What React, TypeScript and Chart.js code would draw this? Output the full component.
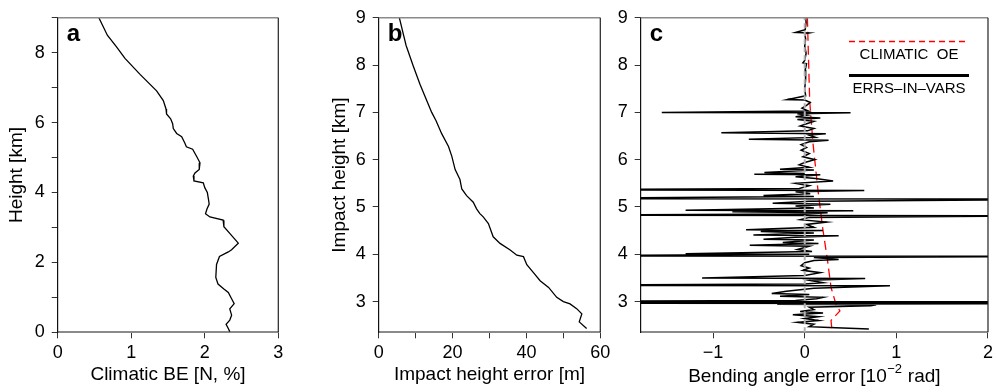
import React, { useEffect, useRef } from 'react';
import { Chart, registerables } from 'chart.js';

Chart.register(...registerables);

const FONT = "'Liberation Sans', Arial, Helvetica, sans-serif";

// ---------- Panel a: climatic background error ----------
const aHeight = [9.0, 8.5, 8.17, 7.84, 7.38, 6.91, 6.63, 6.39, 6.25, 6.11, 5.97, 5.83, 5.69, 5.6, 5.41, 5.31, 5.24, 5.03, 4.85, 4.66, 4.56, 4.47, 4.33, 4.28, 4.14, 4.0, 3.81, 3.67, 3.53, 3.39, 3.3, 3.21, 3.02, 2.83, 2.55, 2.36, 2.3, 2.17, 1.94, 1.57, 1.38, 1.24, 1.14, 0.96, 0.82, 0.67, 0.49, 0.35, 0.23, 0.11, 0.02];
const aClimBE = [0.56, 0.675, 0.8, 0.915, 1.12, 1.345, 1.436, 1.473, 1.48, 1.536, 1.563, 1.572, 1.618, 1.686, 1.73, 1.75, 1.835, 1.89, 1.935, 1.925, 1.867, 1.844, 1.853, 1.98, 2.0, 2.035, 2.05, 2.06, 2.03, 2.01, 2.07, 2.25, 2.26, 2.34, 2.456, 2.365, 2.32, 2.2, 2.16, 2.15, 2.18, 2.26, 2.32, 2.365, 2.4, 2.34, 2.365, 2.34, 2.29, 2.32, 2.34];
const aXTicks = [0, 1, 2, 3];
const aYTicks = [0, 1, 2, 3, 4, 5, 6, 7, 8, 9];
const aYLabels = [0, 2, 4, 6, 8];

// ---------- Panel b: impact height error ----------
const bHeight = [9.0, 8.42, 7.97, 7.59, 7.25, 7.0, 6.83, 6.55, 6.28, 6.07, 5.79, 5.58, 5.38, 5.24, 5.1, 4.96, 4.86, 4.79, 4.65, 4.37, 4.23, 4.09, 3.98, 3.95, 3.78, 3.61, 3.44, 3.3, 3.09, 3.0, 2.95, 2.85, 2.74, 2.57, 2.43];
const bImpactErr = [5.6, 7.4, 9.4, 11.2, 13.0, 14.35, 15.5, 17.05, 18.9, 19.8, 20.7, 22.0, 22.5, 23.8, 25.6, 26.5, 27.4, 28.3, 29.7, 31.0, 32.85, 35.6, 37.4, 39.2, 40.1, 41.9, 43.7, 46.0, 48.2, 50.0, 51.8, 53.6, 55.0, 54.3, 56.3];
const bXTicks = [0, 10, 20, 30, 40, 50, 60];
const bXLabels = [0, 20, 40, 60];
const bcYTicks = [3, 4, 5, 6, 7, 8, 9];

// ---------- Panel c: bending angle error ----------
const cHeight = [9.0, 8.9, 8.75, 8.69, 8.68, 8.66, 8.55, 8.4, 8.25, 8.1, 8.05, 8.03, 7.9, 7.7, 7.5, 7.35, 7.27, 7.26, 7.21, 7.15, 7.09, 7.03, 7.0, 6.99, 6.97, 6.94, 6.91, 6.88, 6.85, 6.81, 6.76, 6.71, 6.66, 6.61, 6.57, 6.55, 6.52, 6.47, 6.43, 6.41, 6.38, 6.32, 6.26, 6.2, 6.13, 6.06, 6.0, 5.94, 5.89, 5.84, 5.8, 5.78, 5.73, 5.71, 5.69, 5.68, 5.64, 5.6, 5.55, 5.5, 5.45, 5.39, 5.36, 5.35, 5.32, 5.28, 5.24, 5.22, 5.175, 5.165, 5.12, 5.08, 5.06, 5.02, 4.98, 4.93, 4.92, 4.9, 4.88, 4.85, 4.825, 4.815, 4.78, 4.73, 4.68, 4.63, 4.57, 4.52, 4.5, 4.48, 4.45, 4.41, 4.39, 4.36, 4.32, 4.3, 4.25, 4.23, 4.19, 4.17, 4.1, 4.06, 4.01, 4.0, 3.965, 3.955, 3.93, 3.89, 3.87, 3.82, 3.76, 3.71, 3.66, 3.61, 3.55, 3.5, 3.49, 3.45, 3.4, 3.37, 3.345, 3.335, 3.28, 3.22, 3.17, 3.15, 3.11, 3.09, 3.06, 3.02, 3.005, 2.995, 2.985, 2.975, 2.965, 2.955, 2.945, 2.93, 2.91, 2.88, 2.83, 2.79, 2.76, 2.72, 2.68, 2.64, 2.6, 2.56, 2.52, 2.47, 2.45, 2.42];
const cErrsInVars = [0.01, 0.015, 0.005, -0.1, 0.05, 0.0, 0.01, 0.0, 0.015, 0.0, -0.02, 0.02, 0.005, 0.01, 0.0, 0.01, -0.19, 0.0, 0.06, 0.02, -0.03, 0.04, -1.56, 0.5, -0.08, 0.02, -0.1, 0.17, -0.08, 0.1, 0.02, -0.05, 0.1, 0.03, -0.91, 0.23, 0.05, 0.12, -0.61, 0.26, 0.05, -0.04, 0.02, -0.04, 0.05, -0.02, 0.11, 0.0, -0.06, 0.05, -0.27, 0.1, -0.44, 0.0, -0.55, 0.17, -0.1, 0.12, 0.31, -0.1, 0.05, -0.06, -3, 0.65, -0.1, 0.06, -0.45, 0.1, -3, 3, 0.05, -0.35, 0.28, -0.1, 0.1, -1.3, 0.53, -0.79, 0.25, 0.0, -3, 3, 0.05, -0.05, 0.24, 0.02, 0.1, -0.64, 0.2, -0.48, 0.1, -0.56, 0.37, -0.1, -0.45, 0.1, -0.24, 0.15, -0.6, 0.05, -0.08, 0.08, -1.3, 0.05, -3, 3, 0.1, 0.37, 0.1, 0.0, -0.04, 0.05, -0.02, 0.17, 0.0, -1.12, 0.66, 0.05, 0.2, 0.0, -3, 0.93, 0.1, -0.2, -0.36, 0.05, -0.27, 0.2, 0.13, -0.1, -3, 3, -3, 3, -3, 3, -0.3, 0.78, 0.72, 0.05, 0.1, -0.05, 0.2, -0.13, 0.15, 0.0, 0.15, -0.08, 0.1, 0.05, 0.27, 0.7];
const cOeHeight = [9.0, 7.25, 6.35, 5.38, 4.54, 3.85, 3.3, 2.95, 2.8, 2.6, 2.4];
const cClimOE = [0.029, 0.054, 0.09, 0.143, 0.197, 0.25, 0.287, 0.34, 0.384, 0.287, 0.297];
const cZeroHeight = [2.35, 9.0];
const cZeroValue = [0, 0];
const cXTicks = [-1, 0, 1, 2];

const pts = (xs: number[], ys: number[]) => xs.map((x, i) => ({ x, y: ys[i] }));

const fmt = (v: number) => (v < 0 ? '\u2212' + Math.abs(v) : String(v));

function xAxis(min: number, max: number, ticks: number[], labels: number[], title?: string) {
  return {
    type: 'linear',
    position: 'bottom',
    min,
    max,
    afterBuildTicks: (s: any) => { s.ticks = ticks.map((v) => ({ value: v })); },
    afterFit: (s: any) => { s.height = 59.7; },
    ticks: {
      autoSkip: false,
      maxRotation: 0,
      padding: 4,
      color: '#000',
      font: { family: FONT, size: 18 },
      callback: (v: number) => (labels.includes(v) ? fmt(v) : ''),
    },
    grid: { drawOnChartArea: false, drawTicks: true, tickLength: 6, color: '#333', lineWidth: 1 },
    border: { display: true, color: '#8a8a8a', width: 2 },
    title: title
      ? { display: true, text: title, color: '#000', font: { family: FONT, size: 19 }, padding: { top: 0, bottom: 6 } }
      : { display: false },
  };
}

function yAxis(min: number, max: number, ticks: number[], labels: number[], width: number, title?: string, titlePad = 6) {
  return {
    type: 'linear',
    position: 'left',
    min,
    max,
    afterBuildTicks: (s: any) => { s.ticks = ticks.map((v) => ({ value: v })); },
    afterFit: (s: any) => { s.width = width; },
    ticks: {
      autoSkip: false,
      padding: 7,
      color: '#000',
      font: { family: FONT, size: 18 },
      callback: (v: number) => (labels.includes(v) ? fmt(v) : ''),
    },
    grid: { drawOnChartArea: false, drawTicks: true, tickLength: 6, color: '#333', lineWidth: 1 },
    border: { display: true, color: '#111', width: 1.2 },
    title: title
      ? { display: true, text: title, color: '#000', font: { family: FONT, size: 19 }, padding: { top: titlePad, bottom: 0 } }
      : { display: false },
  };
}

function framePlugin(label: string) {
  return {
    id: 'frame_' + label,
    afterDraw(chart: any) {
      const { ctx, chartArea } = chart;
      const { left, right, top, bottom } = chartArea;
      ctx.save();
      ctx.strokeStyle = '#8a8a8a';
      ctx.lineWidth = 1.5;
      ctx.beginPath();
      ctx.moveTo(left, top);
      ctx.lineTo(right, top);
      ctx.stroke();
      ctx.strokeStyle = '#222';
      ctx.lineWidth = 1.2;
      ctx.beginPath();
      ctx.moveTo(right, top);
      ctx.lineTo(right, bottom);
      ctx.stroke();
      ctx.fillStyle = '#000';
      ctx.font = `bold 24px ${FONT}`;
      ctx.textAlign = 'left';
      ctx.textBaseline = 'alphabetic';
      ctx.fillText(label, left + 9, top + 23);
      ctx.restore();
    },
  };
}

const legendPlugin = {
  id: 'legendC',
  afterDraw(chart: any) {
    const { ctx, chartArea } = chart;
    const { right, top } = chartArea;
    ctx.save();
    ctx.strokeStyle = '#ff0000';
    ctx.lineWidth = 1.3;
    ctx.setLineDash([6, 4]);
    ctx.beginPath();
    ctx.moveTo(right - 139, top + 23.7);
    ctx.lineTo(right - 22, top + 23.7);
    ctx.stroke();
    ctx.setLineDash([]);
    ctx.strokeStyle = '#000';
    ctx.lineWidth = 3;
    ctx.beginPath();
    ctx.moveTo(right - 139, top + 57.7);
    ctx.lineTo(right - 19, top + 57.7);
    ctx.stroke();
    ctx.fillStyle = '#000';
    ctx.font = `15px ${FONT}`;
    ctx.textAlign = 'center';
    ctx.textBaseline = 'middle';
    ctx.fillText('CLIMATIC  OE', right - 79, top + 37);
    ctx.fillText('ERRS\u2013IN\u2013VARS', right - 79, top + 71);
    ctx.restore();
  },
};

const titleCPlugin = {
  id: 'titleC',
  afterDraw(chart: any) {
    const { ctx, chartArea } = chart;
    const cx = (chartArea.left + chartArea.right) / 2;
    const base = 381.5;
    const p1 = 'Bending angle error [10';
    const p2 = '\u22122';
    const p3 = ' rad]';
    ctx.save();
    ctx.fillStyle = '#000';
    ctx.textBaseline = 'alphabetic';
    ctx.textAlign = 'left';
    ctx.font = `19px ${FONT}`;
    const w1 = ctx.measureText(p1).width;
    const w3 = ctx.measureText(p3).width;
    ctx.font = `13px ${FONT}`;
    const w2 = ctx.measureText(p2).width + 1;
    let x = cx - (w1 + w2 + w3) / 2;
    ctx.font = `19px ${FONT}`;
    ctx.fillText(p1, x, base);
    x += w1;
    ctx.font = `13px ${FONT}`;
    ctx.fillText(p2, x + 0.5, base - 8.5);
    x += w2;
    ctx.font = `19px ${FONT}`;
    ctx.fillText(p3, x, base);
    ctx.restore();
  },
};

function baseOptions(padding: any, scales: any) {
  return {
    responsive: false,
    animation: false,
    devicePixelRatio: 1,
    layout: { padding, autoPadding: false },
    plugins: { legend: { display: false }, tooltip: { enabled: false } },
    elements: { point: { radius: 0 }, line: { tension: 0 } },
    scales,
  };
}

export default function App() {
  const ra = useRef<HTMLCanvasElement>(null);
  const rb = useRef<HTMLCanvasElement>(null);
  const rc = useRef<HTMLCanvasElement>(null);

  useEffect(() => {
    const chartA = new Chart(ra.current as HTMLCanvasElement, {
      type: 'scatter',
      data: {
        datasets: [
          { data: pts(aClimBE, aHeight), showLine: true, borderColor: '#000', borderWidth: 1.3, pointRadius: 0 },
        ],
      },
      options: baseOptions(
        { left: 0, top: 12.3, right: 718.7, bottom: 0 },
        {
          x: xAxis(0, 3, aXTicks, aXTicks, 'Climatic BE [N, %]'),
          y: yAxis(0, 9, aYTicks, aYLabels, 57.7, 'Height [km]', 5.5),
        }
      ) as any,
      plugins: [framePlugin('a')],
    } as any);

    const chartB = new Chart(rb.current as HTMLCanvasElement, {
      type: 'scatter',
      data: {
        datasets: [
          { data: pts(bImpactErr, bHeight), showLine: true, borderColor: '#000', borderWidth: 1.3, pointRadius: 0 },
        ],
      },
      options: baseOptions(
        { left: 320, top: 12.3, right: 396.7, bottom: 0 },
        {
          x: xAxis(0, 60, bXTicks, bXLabels, 'Impact height error [m]'),
          y: yAxis(2.35, 9, bcYTicks, bcYTicks, 58.7, 'Impact height [km]', 8.5),
        }
      ) as any,
      plugins: [framePlugin('b')],
    } as any);

    const chartC = new Chart(rc.current as HTMLCanvasElement, {
      type: 'scatter',
      data: {
        datasets: [
          { data: pts(cZeroValue, cZeroHeight), showLine: true, borderColor: '#b0b0b0', borderWidth: 2, borderDash: [5, 3], pointRadius: 0 },
          { data: pts(cErrsInVars, cHeight), showLine: true, borderColor: '#000', borderWidth: 1.5, pointRadius: 0 },
          { data: pts(cClimOE, cOeHeight), showLine: true, borderColor: '#ff0000', borderWidth: 1.3, borderDash: [9, 5], pointRadius: 0 },
        ],
      },
      options: baseOptions(
        { left: 600, top: 12.3, right: 4.7, bottom: 0 },
        {
          x: xAxis(-1.79, 2, cXTicks, cXTicks),
          y: yAxis(2.35, 9, bcYTicks, bcYTicks, 40.7),
        }
      ) as any,
      plugins: [framePlugin('c'), legendPlugin, titleCPlugin],
    } as any);

    return () => {
      chartA.destroy();
      chartB.destroy();
      chartC.destroy();
    };
  }, []);

  const cs: React.CSSProperties = { position: 'absolute', left: 0, top: 0, width: 997, height: 392 };
  return (
    <div style={{ position: 'absolute', left: 0, top: 0, width: 997, height: 392, background: '#fff' }}>
      <canvas ref={ra} width={997} height={392} style={cs} />
      <canvas ref={rb} width={997} height={392} style={cs} />
      <canvas ref={rc} width={997} height={392} style={cs} />
    </div>
  );
}
